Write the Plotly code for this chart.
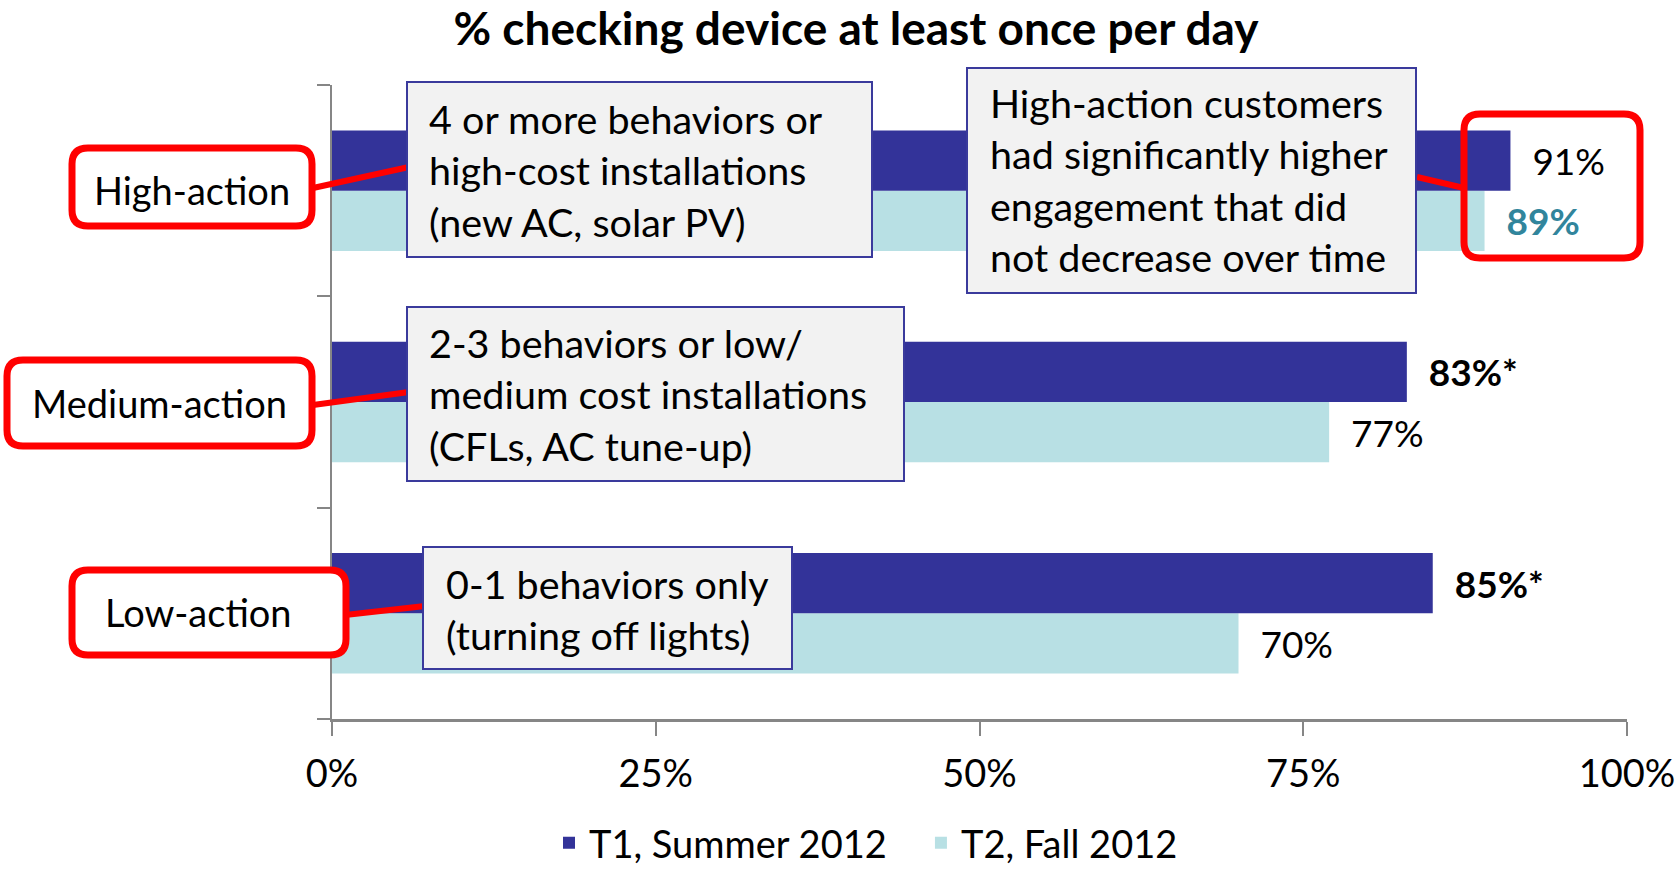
import plotly.graph_objects as go

# ---------------- data ----------------
categories = ["Low-action", "Medium-action", "High-action"]
t1_values = [85, 83, 91]          # T1, Summer 2012
t2_values = [70, 77, 89]          # T2, Fall 2012
t1_labels = ["<b>85%*</b>", "<b>83%*</b>", "91%"]
t2_labels = ["70%", "77%", "<b>89%</b>"]
t2_label_colors = ["black", "black", "#31859C"]
x_ticks = [0, 25, 50, 75, 100]
x_tick_text = ["0%", "25%", "50%", "75%", "100%"]
series_names = ["T1, Summer 2012", "T2, Fall 2012"]
title_text = "% checking device at least once per day"
callouts = [
    "4 or more behaviors or<br>high-cost installations<br>(new AC, solar PV)",
    "High-action customers<br>had significantly higher<br>engagement that did<br>not decrease over time",
    "2-3 behaviors or low/<br>medium cost installations<br>(CFLs, AC tune-up)",
    "0-1 behaviors only<br>(turning off lights)",
]

# ---------------- styles ----------------
W, H = 1676, 869
L, R, T, B = 332, 49, 85, 150
PW, PH = W - L - R, H - T - B
FONT = "Lato"
DARK = "#333399"
LIGHT = "#B8E0E4"
RED = "#FF0000"


def px(x):
    return (x - L) / PW


def py(y):
    return (H - B - y) / PH


def rounded_rect(x0, y0, x1, y1, r):
    pts = [
        ("M", (x0 + r, y0)), ("L", (x1 - r, y0)), ("Q", (x1, y0), (x1, y0 + r)),
        ("L", (x1, y1 - r)), ("Q", (x1, y1), (x1 - r, y1)),
        ("L", (x0 + r, y1)), ("Q", (x0, y1), (x0, y1 - r)),
        ("L", (x0, y0 + r)), ("Q", (x0, y0), (x0 + r, y0)),
    ]
    s = ""
    for item in pts:
        cmd = item[0]
        coords = " ".join(f"{px(a):.5f},{py(b):.5f}" for a, b in item[1:])
        s += f"{cmd}{coords} "
    return s + "Z"


fig = go.Figure()
fig.add_trace(go.Bar(
    y=categories, x=t2_values, orientation="h", name=series_names[1],
    marker=dict(color=LIGHT, line=dict(width=0)),
    text=[("\u00a0\u00a0" + t) for t in t2_labels], textposition="outside",
    textfont=dict(family=FONT, size=37, color=t2_label_colors),
    constraintext="none", cliponaxis=False, legendrank=2, hoverinfo="skip",
))
fig.add_trace(go.Bar(
    y=categories, x=t1_values, orientation="h",
    name=series_names[0] + "\u00a0\u00a0\u00a0",
    marker=dict(color=DARK, line=dict(width=0)),
    text=[("\u00a0\u00a0" + t) for t in t1_labels], textposition="outside",
    textfont=dict(family=FONT, size=37, color="black"),
    constraintext="none", cliponaxis=False, legendrank=1, hoverinfo="skip",
))

shapes = []
# connector lines
for (a, b, c, d) in [(313, 188, 409, 167), (313, 405, 409, 392),
                     (345, 615, 425, 606), (1417, 177, 1464, 188)]:
    shapes.append(dict(type="line", xref="paper", yref="paper",
                       x0=px(a), y0=py(b), x1=px(c), y1=py(d),
                       line=dict(color=RED, width=6), layer="above"))
# callout boxes
callout_boxes = [(407, 82, 872, 257), (967, 68, 1416, 293),
                 (407, 307, 904, 481), (423, 547, 792, 669)]
for (a, b, c, d) in callout_boxes:
    shapes.append(dict(type="rect", xref="paper", yref="paper",
                       x0=px(a), y0=py(b), x1=px(c), y1=py(d),
                       fillcolor="#F2F2F2", line=dict(color="#3A3A9C", width=2),
                       layer="above"))
# red rounded boxes
red_boxes = [((72, 148, 312, 226), "white"), ((7, 360, 312, 446), "white"),
             ((72, 570, 346, 655), "white"), ((1464, 114, 1640, 258), "rgba(0,0,0,0)")]
for (a, b, c, d), fill in red_boxes:
    shapes.append(dict(type="path", xref="paper", yref="paper",
                       path=rounded_rect(a, b, c, d, 16),
                       fillcolor=fill, line=dict(color=RED, width=7),
                       layer="above"))

annotations = []
label_pos = [(192, 190), (159, 403), (198, 612)]
for cat, (x, y) in zip(categories[::-1], label_pos):
    annotations.append(dict(text=cat, xref="paper", yref="paper", x=px(x), y=py(y),
                            xanchor="center", yanchor="middle", showarrow=False,
                            font=dict(family=FONT, size=38, color="black")))
callout_text_pos = [(427, 170), (988, 180), (427, 394), (444, 609)]
for txt, (x, y) in zip(callouts, callout_text_pos):
    annotations.append(dict(text=txt, xref="paper", yref="paper", x=px(x), y=py(y),
                            xanchor="left", yanchor="middle", align="left",
                            showarrow=False,
                            font=dict(family=FONT, size=39.5, color="black")))

fig.update_layout(
    width=W, height=H,
    margin=dict(l=L, r=R, t=T, b=B, autoexpand=False),
    paper_bgcolor="white", plot_bgcolor="white",
    barmode="group", bargap=0.43, bargroupgap=0,
    title=dict(text=f"<b>{title_text}</b>", x=856 / W, xref="container", xanchor="center",
               y=1 - 29 / H, yref="container", yanchor="middle",
               font=dict(family=FONT, size=46, color="black")),
    xaxis=dict(range=[0, 100], tickvals=x_ticks, ticktext=x_tick_text,
               showgrid=False, zeroline=False, showline=True, linecolor="#868686",
               linewidth=3, ticks="outside", ticklen=14, tickwidth=1.5,
               tickcolor="#868686", ticklabelstandoff=5,
               tickfont=dict(family=FONT, size=38, color="black")),
    yaxis=dict(showgrid=False, zeroline=False, showline=True, linecolor="#868686",
               linewidth=1.5, ticks="outside", ticklen=13, tickwidth=1.5,
               tickcolor="#868686", tickson="boundaries", showticklabels=False),
    legend=dict(orientation="h", xref="container", yref="container",
                x=866 / W, xanchor="center", y=1 - 843 / H, yanchor="middle",
                font=dict(family=FONT, size=38, color="black"),
                itemclick=False, itemdoubleclick=False),
    shapes=shapes, annotations=annotations,
    showlegend=True,
)

fig.write_html("out.html")
